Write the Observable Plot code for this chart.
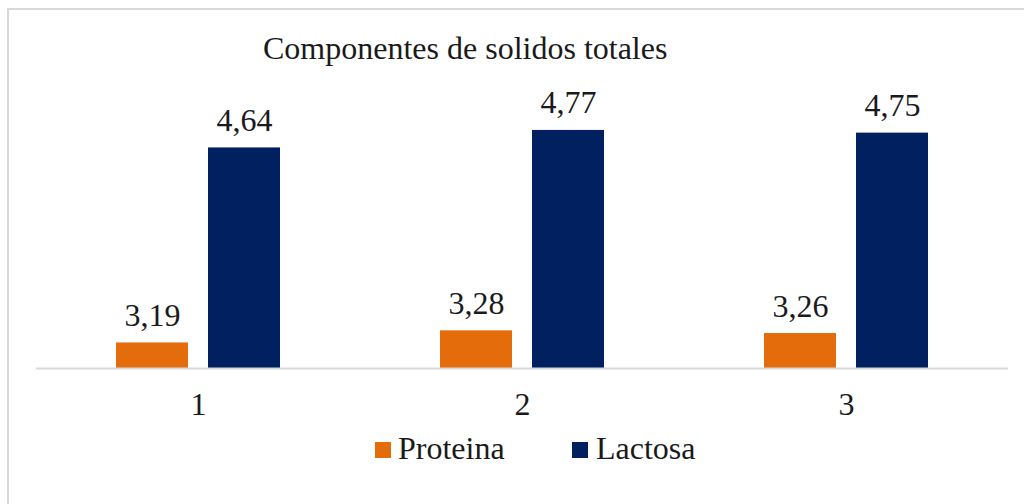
<!DOCTYPE html>
<html>
<head>
<meta charset="utf-8">
<script src="https://cdn.jsdelivr.net/npm/d3@7"></script>
<script src="https://cdn.jsdelivr.net/npm/@observablehq/plot@0.6"></script>
<style>
  html, body { margin: 0; padding: 0; background: #fff; }
  #wrap { position: relative; width: 1024px; height: 504px; overflow: hidden; font-family: "Liberation Serif", "Times New Roman", serif; color: #1a1a1a; }
  #frame { position: absolute; left: 7px; top: 8px; width: 1100px; height: 600px; border: 2px solid #d9d9d9; box-sizing: border-box; }
  #title { position: absolute; left: 263px; top: 32px; font-size: 32px; line-height: 32px; white-space: nowrap; }
  .leg { position: absolute; top: 432px; font-size: 32px; line-height: 32px; white-space: nowrap; }
  .sw { position: absolute; top: 442px; width: 16px; height: 16px; }
  #chart { position: absolute; left: 0; top: 0; }
  #chart svg text { font-family: "Liberation Serif", "Times New Roman", serif; }
</style>
</head>
<body>
<div id="wrap">
  <div id="frame"></div>
  <div id="chart"></div>
  <div id="title">Componentes de solidos totales</div>
  <div id="legend"></div>
</div>
<script>
const categories = ["1", "2", "3"];
const seriesNames = ["Proteina", "Lactosa"];
const proteina = [3.19, 3.28, 3.26];
const lactosa = [4.64, 4.77, 4.75];
const colors = ["#E46C0A", "#002060"];

const data = [];
categories.forEach((c, i) => {
  data.push({cat: c, series: seriesNames[0], value: proteina[i]});
  data.push({cat: c, series: seriesNames[1], value: lactosa[i]});
});
const fmt = v => d3.format(".2f")(v).replace(".", ",");
const serif = "'Liberation Serif', 'Times New Roman', serif";

const chart = Plot.plot({
  width: 1024,
  height: 504,
  marginLeft: 36,
  marginRight: 16,
  marginTop: 99,
  marginBottom: 136,
  style: {fontFamily: serif, fontSize: "32px", color: "#1a1a1a", background: "transparent"},
  fx: {domain: categories, padding: 0, label: null, axis: null},
  x: {domain: seriesNames, paddingInner: 0.217, paddingOuter: 0.869, axis: null},
  y: {domain: [3, 5], axis: null},
  color: {domain: seriesNames, range: colors},
  marks: [
    Plot.barY(data, {fx: "cat", x: "series", y1: 3, y2: "value", fill: "series"}),
    Plot.ruleY([3], {stroke: "#d9d9d9", strokeWidth: 2}),
    Plot.text(data, {fx: "cat", x: "series", y: "value", text: d => fmt(d.value), lineAnchor: "bottom", dy: -17, fill: "#1a1a1a", fontSize: 32, fontFamily: serif}),
    Plot.axisFx({anchor: "bottom", tickSize: 0, tickPadding: 24, fontSize: 32, fontFamily: serif, label: null, fill: "#1a1a1a"})
  ]
});
document.getElementById("chart").appendChild(chart);

const legend = document.getElementById("legend");
const swX = [375, 572];
const txX = [398, 596];
seriesNames.forEach((s, i) => {
  const sw = document.createElement("div");
  sw.className = "sw"; sw.style.left = swX[i] + "px"; sw.style.background = colors[i];
  legend.appendChild(sw);
  const t = document.createElement("div");
  t.className = "leg"; t.style.left = txX[i] + "px"; t.textContent = s;
  legend.appendChild(t);
});
</script>
</body>
</html>
